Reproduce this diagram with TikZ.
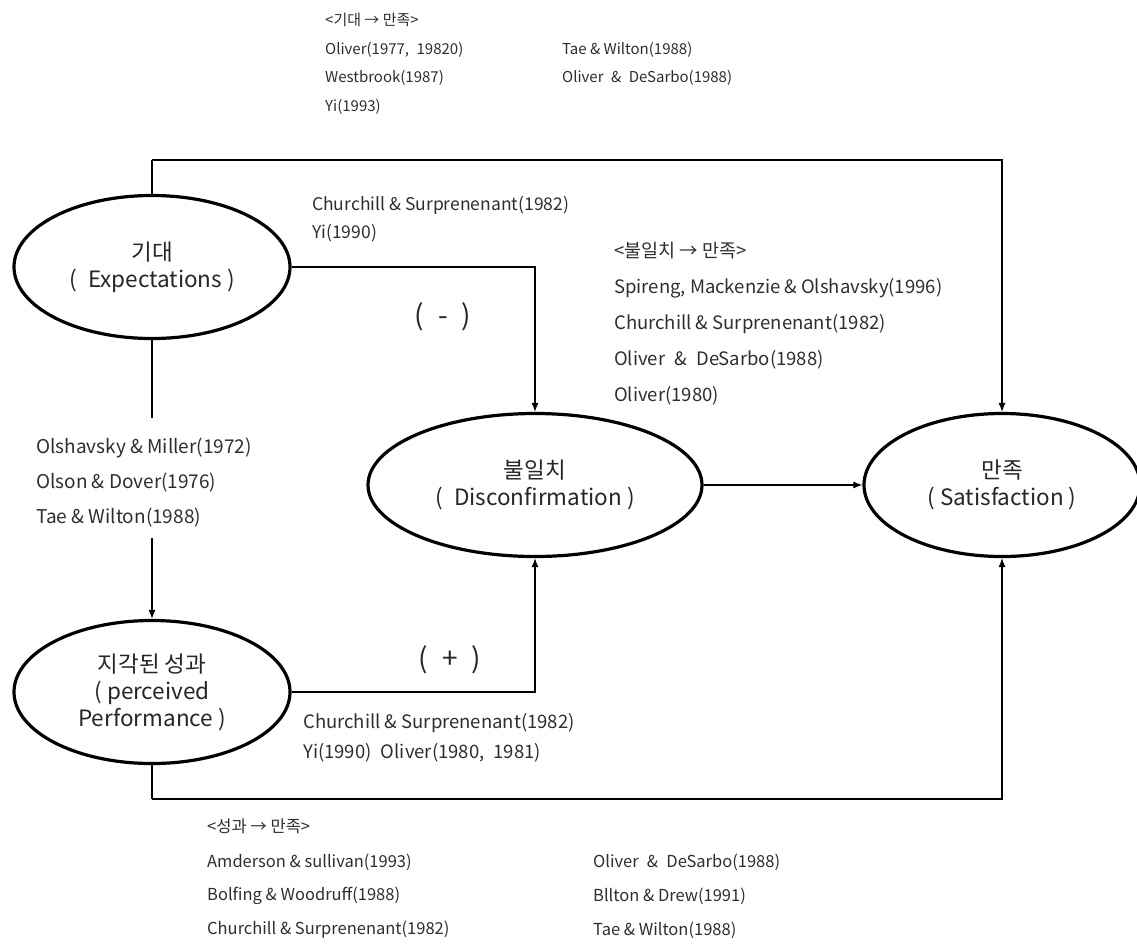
\documentclass[tikz,border=0pt]{standalone}
\usepackage{fontspec}
\setmainfont{Noto Sans CJK KR}
\usetikzlibrary{shapes.geometric,arrows.meta}
\begin{document}
\begin{tikzpicture}[x=1pt,y=-1pt,
  construct/.style={ellipse,draw,line width=3.2pt,minimum width=276,minimum height=143,
    inner sep=0,align=center,text=black!85,font=\fontsize{22.5}{27}\selectfont},
  conn/.style={line width=1.1pt,-{Latex[length=9pt,width=7pt]}},
  plain/.style={line width=1.1pt},
  cite/.style={anchor=west,inner sep=0,text=black!82,font=\fontsize{18.5}{22}\selectfont},
  smallcite/.style={cite,font=\fontsize{15}{18}\selectfont},
  midcite/.style={cite,font=\fontsize{16.5}{20}\selectfont},
  sign/.style={inner sep=0,text=black!85,font=\fontsize{28}{30}\selectfont}]
\useasboundingbox (0,0) rectangle (1137,946);

% constructs
\node[construct] (exp)  at (152,267) {기대\\(\enspace Expectations )};
\node[construct] (perf) at (152,692) {지각된 성과\\( perceived\\Performance )};
\node[construct,minimum width=334] (dis) at (535,485) {불일치\\(\enspace Disconfirmation )};
\node[construct] (sat)  at (1002,485) {만족\\( Satisfaction )};

% expectation -> performance citations (the connector is broken by them)
\node[cite,font=\fontsize{19}{22}\selectfont] (f1) at (36,448) {Olshavsky \& Miller(1972)};
\node[cite,font=\fontsize{19}{22}\selectfont] (f2) at (36,483) {Olson \& Dover(1976)};
\node[cite,font=\fontsize{19}{22}\selectfont] (f3) at (36,518) {Tae \& Wilton(1988)};

% helper levels for the long paths
\coordinate (toplevel) at (0,160);
\coordinate (botlevel) at (0,799);
\coordinate (gaptop) at (0,418);
\coordinate (gapbot) at (0,538);

% connectors
\draw[plain] (exp.north) -- (exp.north |- toplevel) coordinate (tl);
\draw[conn] (tl) -| (sat.north);
\draw[conn] (exp.east) -| (dis.north);
\draw[plain] (exp.south) -- (exp.south |- gaptop);
\draw[conn] (perf.north |- gapbot) -- (perf.north);
\draw[conn] (perf.east) -| (dis.south);
\draw[conn] (dis.east) -- (sat.west);
\draw[plain] (perf.south) -- (perf.south |- botlevel) coordinate (bl);
\draw[conn] (bl) -| (sat.south);

% signs
\node[sign] (minus) at (443,317) {(\enspace-\enspace)};
\node[sign] (plus)  at (450,660) {(\enspace+\enspace)};

% expectation -> satisfaction
\node[smallcite] (c1) at (325,20)  {<기대 → 만족>};
\node[smallcite] (c2) at (325,50)  {Oliver(1977,\enspace 19820)};
\node[smallcite] (c3) at (325,78)  {Westbrook(1987)};
\node[smallcite] (c4) at (325,107) {Yi(1993)};
\node[smallcite] (c5) at (562,50)  {Tae \& Wilton(1988)};
\node[smallcite] (c6) at (562,78)  {Oliver\enspace\&\enspace DeSarbo(1988)};

% expectation -> disconfirmation
\node[cite,font=\fontsize{17.5}{21}\selectfont] (d1) at (312,205) {Churchill \& Surprenenant(1982)};
\node[cite,font=\fontsize{17.5}{21}\selectfont] (d2) at (312,233) {Yi(1990)};

% disconfirmation -> satisfaction
\node[cite] (e1) at (614,251) {<불일치 → 만족>};
\node[cite] (e2) at (614,288) {Spireng, Mackenzie \& Olshavsky(1996)};
\node[cite] (e3) at (614,324) {Churchill \& Surprenenant(1982)};
\node[cite] (e4) at (614,360) {Oliver\enspace\&\enspace DeSarbo(1988)};
\node[cite] (e5) at (614,396) {Oliver(1980)};

% performance -> disconfirmation
\node[cite] (g1) at (303,723) {Churchill \& Surprenenant(1982)};
\node[cite] (g2) at (303,753) {Yi(1990)\enspace Oliver(1980,\enspace 1981)};

% performance -> satisfaction
\node[midcite] (h1) at (207,826) {<성과 → 만족>};
\node[midcite] (h2) at (207,862) {Amderson \& sullivan(1993)};
\node[midcite] (h3) at (207,896) {Bolfing \& Woodruff(1988)};
\node[midcite] (h4) at (207,930) {Churchill \& Surprenenant(1982)};
\node[midcite] (h5) at (593,862) {Oliver\enspace\&\enspace DeSarbo(1988)};
\node[midcite] (h6) at (593,896) {Bllton \& Drew(1991)};
\node[midcite] (h7) at (593,930) {Tae \& Wilton(1988)};
\end{tikzpicture}
\end{document}
